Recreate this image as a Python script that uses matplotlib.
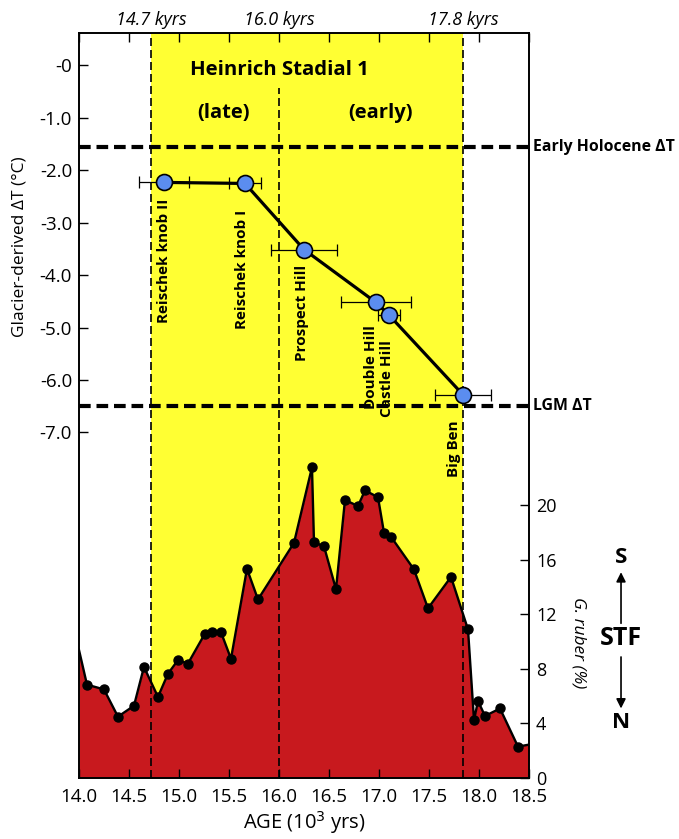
import numpy as np
import matplotlib
matplotlib.use('Agg')
import matplotlib.pyplot as plt
import matplotlib.transforms as mtransforms

plt.rcParams['font.family'] = ['Open Sans', 'DejaVu Sans']

# Glacier-derived temperature anomalies (moraine sites)
sites = ['Reischek knob II', 'Reischek knob I', 'Prospect Hill', 'Double Hill', 'Castle Hill', 'Big Ben']
site_age = np.array([14.85, 15.66, 16.25, 16.97, 17.10, 17.84])
site_err = np.array([0.25, 0.16, 0.33, 0.35, 0.11, 0.28])
site_dT = np.array([-2.23, -2.25, -3.51, -4.52, -4.76, -6.28])

# reference temperatures
holocene_dT = -1.55
lgm_dT = -6.5

# HS1 boundaries (kyr)
hs1_bounds = [14.72, 16.0, 17.84]
hs1_labels = ['14.7 kyrs', '16.0 kyrs', '17.8 kyrs']

# G. ruber abundance record
ruber_age = np.array([14.0, 14.08, 14.25, 14.39, 14.55, 14.65, 14.79, 14.89, 14.99, 15.09,
                      15.26, 15.33, 15.42, 15.52, 15.68, 15.79, 16.15, 16.33, 16.35, 16.45,
                      16.57, 16.66, 16.79, 16.86, 16.99, 17.05, 17.12, 17.35, 17.49, 17.72,
                      17.89, 17.95, 17.99, 18.06, 18.21, 18.39, 18.5])
ruber_pct = np.array([9.4, 6.85, 6.5, 4.5, 5.3, 8.15, 5.95, 7.65, 8.65, 8.4,
                      10.6, 10.7, 10.7, 8.75, 15.35, 13.1, 17.25, 22.8, 17.3, 17.0,
                      13.85, 20.4, 19.95, 21.1, 20.6, 18.0, 17.7, 15.3, 12.45, 14.75,
                      10.9, 4.25, 5.65, 4.55, 5.1, 2.3, 2.45])

yellow = '#FFFF33'
red = '#C8191E'
blue = '#5B8DEF'

fig = plt.figure(figsize=(6.79, 8.39), dpi=100)
ax = fig.add_axes([0.1163, 0.0727, 0.6628, 0.888])
ax2 = ax.twinx()
ax.set_zorder(2)
ax2.set_zorder(1)
ax.patch.set_visible(False)

ax.set_xlim(14.0, 18.5)
ax.set_ylim(-13.59, 0.62)
ax2.set_ylim(0, 54.66)

# background: HS1 band and G. ruber record
ax2.axvspan(hs1_bounds[0], hs1_bounds[2], color=yellow, lw=0, zorder=0)
ax2.fill_between(ruber_age, 0, ruber_pct, color=red, lw=0, zorder=1)
ax2.plot(ruber_age, ruber_pct, color='black', lw=1.7, marker='o', markersize=6.5,
         markevery=slice(1, len(ruber_age) - 1), zorder=2, clip_on=True)

# vertical boundaries
vdash = dict(color='black', lw=1.2, linestyle=(0, (4.8, 2.4)))
ax.axvline(hs1_bounds[0], **vdash)
ax.vlines(hs1_bounds[1], -13.59, -0.43, **vdash)
ax.axvline(hs1_bounds[2], **vdash)

# reference temperatures
hdash = dict(color='black', lw=3, linestyle=(0, (2.8, 1.4)))
ax.axhline(holocene_dT, **hdash)
ax.axhline(lgm_dT, **hdash)
ax.text(18.54, holocene_dT, 'Early Holocene ΔT', fontsize=11.4, fontweight='bold',
        ha='left', va='center', clip_on=False)
ax.text(18.54, lgm_dT, 'LGM ΔT', fontsize=11.4, fontweight='bold',
        ha='left', va='center', clip_on=False)

# glacier data
ax.errorbar(site_age, site_dT, xerr=site_err, fmt='none', ecolor='black', elinewidth=0.9,
            capsize=4, capthick=0.9, zorder=3)
ax.plot(site_age, site_dT, color='black', lw=2.3, zorder=4)
ax.plot(site_age, site_dT, 'o', markersize=11.5, markerfacecolor=blue,
        markeredgecolor='black', markeredgewidth=1.2, zorder=5)

lab_off = [(0.0, -0.31), (-0.03, -0.50), (-0.02, -0.29), (-0.05, -0.43), (-0.02, -0.47), (-0.09, -0.48)]
for name, a, t, (dx, dy) in zip(sites, site_age, site_dT, lab_off):
    ax.text(a + dx, t + dy, name, rotation=90, ha='center', va='top',
            fontsize=11, fontweight='bold', zorder=6)

# annotations
ax.text(16.0, -0.08, 'Heinrich Stadial 1', fontsize=14.7, fontweight='bold', ha='center', va='center')
ax.text(15.45, -0.90, '(late)', fontsize=14.5, fontweight='bold', ha='center', va='center')
ax.text(17.02, -0.90, '(early)', fontsize=14.5, fontweight='bold', ha='center', va='center')

top_tr = mtransforms.blended_transform_factory(ax.transData, ax.transAxes)
for b, lab in zip(hs1_bounds, hs1_labels):
    ax.text(b, 1.0174, lab, transform=top_tr, fontsize=13, style='italic',
            ha='center', va='center')

# axes
ax.set_xticks(np.arange(14.0, 18.51, 0.5))
ax.set_xticklabels([f'{v:.1f}' for v in np.arange(14.0, 18.51, 0.5)])
dT_ticks = [0, -1, -2, -3, -4, -5, -6, -7]
ax.set_yticks(dT_ticks)
ax.set_yticklabels(['-0'] + [f'-{abs(v):.1f}' for v in dT_ticks[1:]])
ax2.set_yticks([0, 4, 8, 12, 16, 20])

ax.tick_params(axis='x', direction='in', top=True, length=6.5, width=1, labelsize=13.5, pad=7.5)
ax.tick_params(axis='y', direction='in', length=6.5, width=1, labelsize=13.5, pad=5)
ax2.tick_params(axis='y', direction='in', length=6.5, width=1, labelsize=13, pad=5)
for a_ in (ax, ax2):
    for s in a_.spines.values():
        s.set_linewidth(1.2)

ax.set_xlabel('AGE (10$^3$ yrs)', fontsize=14.5, labelpad=2)

left_tr = mtransforms.blended_transform_factory(ax.transAxes, ax.transData)
ax.text(-0.133, -3.45, 'Glacier-derived ΔT (°C)', transform=left_tr, rotation=90,
        fontsize=12.5, ha='center', va='center')
right_tr = mtransforms.blended_transform_factory(ax2.transAxes, ax2.transData)
ax2.text(1.109, 9.9, 'G. ruber (%)', transform=right_tr, rotation=-90, style='italic',
         fontsize=12.5, ha='center', va='center')

# STF arrow
ax2.text(19.42, 16.2, 'S', fontsize=16, fontweight='bold', ha='center', va='center', clip_on=False)
ax2.text(19.42, 10.25, 'STF', fontsize=18, fontweight='bold', ha='center', va='center', clip_on=False)
ax2.text(19.42, 4.1, 'N', fontsize=16, fontweight='bold', ha='center', va='center', clip_on=False)
arr = dict(arrowstyle='-|>', color='black', lw=1.2, mutation_scale=14, shrinkA=0, shrinkB=0)
ax2.annotate('', xy=(19.42, 15.1), xytext=(19.42, 11.35), arrowprops=arr, annotation_clip=False)
ax2.annotate('', xy=(19.42, 5.1), xytext=(19.42, 8.88), arrowprops=arr, annotation_clip=False)

fig.savefig('out.png', dpi=100)
